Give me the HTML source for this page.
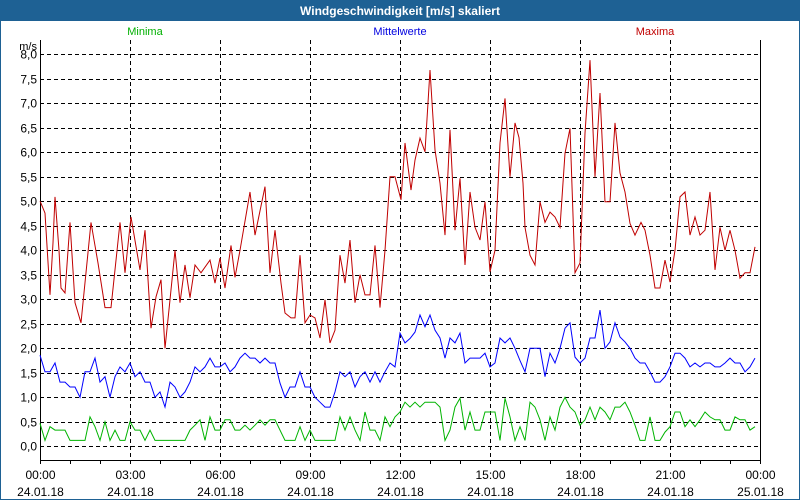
<!DOCTYPE html>
<html><head><meta charset="utf-8"><style>
html,body{margin:0;padding:0;background:#fff}
#wrap{position:relative;width:800px;height:500px;overflow:hidden;font-family:"Liberation Sans",sans-serif}
</style></head><body>
<div id="wrap">
<svg id="chart" width="800" height="500" xmlns="http://www.w3.org/2000/svg">
<rect x="0" y="0" width="800" height="500" fill="#fff"/>
<rect x="0.5" y="0.5" width="799" height="499" fill="none" stroke="#1e6194" stroke-width="1"/>
<rect x="0" y="0" width="800" height="21" fill="#1e6194"/>
<text x="400" y="15" text-anchor="middle" font-size="12" font-weight="bold" fill="#fff">Windgeschwindigkeit [m/s] skaliert</text>
<text x="145" y="35" text-anchor="middle" font-size="11" fill="#00b000">Minima</text>
<text x="400" y="35" text-anchor="middle" font-size="11" fill="#0000e0">Mittelwerte</text>
<text x="655" y="35" text-anchor="middle" font-size="11" fill="#c00000">Maxima</text>
<text x="37" y="50" text-anchor="end" font-size="11" fill="#000">m/s</text>
<g id="grid"></g>
<g id="axes"></g>
<g id="series"></g>
</svg>
</div>
<script>
const yTicks=[0,0.5,1,1.5,2,2.5,3,3.5,4,4.5,5,5.5,6,6.5,7,7.5,8];
const yTickLabels=["0,0","0,5","1,0","1,5","2,0","2,5","3,0","3,5","4,0","4,5","5,0","5,5","6,0","6,5","7,0","7,5","8,0"];
const xTickHours=[0,3,6,9,12,15,18,21,24];
const xTimeLabels=["00:00","03:00","06:00","09:00","12:00","15:00","18:00","21:00","00:00"];
const xDateLabels=["24.01.18","24.01.18","24.01.18","24.01.18","24.01.18","24.01.18","24.01.18","24.01.18","25.01.18"];
const maxMinutes=[0,2,10,20,26,30,38,42,50,60,70,82,102,116,130,142,160,170,182,200,210,222,232,242,250,260,270,280,290,300,310,322,340,350,360,370,382,390,400,420,430,450,460,470,482,490,502,510,520,530,540,550,560,570,580,590,600,610,620,630,640,650,660,670,680,690,700,710,722,730,742,750,760,770,780,790,800,810,820,830,840,850,860,870,880,890,900,910,920,930,940,950,958,966,970,980,990,1000,1010,1020,1030,1040,1050,1060,1070,1080,1090,1100,1110,1120,1130,1140,1150,1160,1170,1180,1190,1202,1210,1220,1230,1240,1250,1260,1270,1280,1290,1300,1310,1320,1330,1340,1350,1360,1370,1380,1390,1400,1410,1420,1430];
const maxValues=[5.0,4.96,4.76,3.09,4.15,5.09,4.0,3.23,3.13,4.57,2.93,2.52,4.57,3.74,2.83,2.83,4.57,3.54,4.68,3.6,4.41,2.41,3.05,3.4,2.0,2.99,4.0,2.93,3.7,3.03,3.7,3.54,3.8,3.33,3.84,3.23,4.1,3.45,4.0,5.19,4.31,5.3,3.54,4.41,3.33,2.72,2.62,2.62,3.9,2.52,2.68,2.62,2.21,2.99,2.11,2.37,3.9,3.33,4.21,2.93,3.5,3.09,3.09,4.1,2.83,4.0,5.5,5.5,5.03,6.19,5.23,5.84,6.29,6.01,7.68,6.05,5.37,4.31,6.46,4.41,5.47,3.7,5.19,4.47,4.21,4.99,3.56,4.0,6.19,7.1,5.5,6.6,6.3,5.37,4.47,3.9,3.7,4.99,4.57,4.78,4.68,4.47,5.98,6.49,3.54,3.74,6.39,7.88,5.5,7.21,4.99,4.99,6.6,5.58,5.19,4.55,4.31,4.57,4.41,3.9,3.23,3.23,3.8,3.35,4.0,5.09,5.19,4.31,4.68,4.31,4.41,5.19,3.6,4.47,4.0,4.41,4.0,3.43,3.54,3.54,4.07];
const meanValues=[1.86,1.52,1.52,1.70,1.31,1.31,1.21,1.21,1.0,1.52,1.52,1.80,1.31,1.42,1.0,1.42,1.62,1.52,1.70,1.42,1.52,1.31,1.31,1.0,1.11,0.8,1.31,1.21,1.0,1.11,1.31,1.62,1.52,1.62,1.80,1.62,1.62,1.70,1.52,1.62,1.80,1.90,1.80,1.80,1.70,1.80,1.70,1.70,1.29,1.0,1.21,1.21,1.52,1.21,1.21,1.0,0.9,0.8,0.8,1.11,1.52,1.42,1.52,1.21,1.42,1.52,1.31,1.52,1.31,1.52,1.70,1.62,2.31,2.11,2.2,2.33,2.68,2.44,2.68,2.37,2.21,1.80,2.21,2.11,2.31,1.70,1.80,1.80,1.80,1.90,1.62,1.70,2.21,2.11,2.21,2.0,1.75,1.52,2.0,2.0,2.0,1.42,1.90,1.70,2.0,2.41,2.52,1.82,1.70,1.80,2.21,2.21,2.78,2.0,2.13,2.52,2.23,2.13,2.0,1.80,1.70,1.70,1.52,1.31,1.31,1.42,1.62,1.90,1.90,1.80,1.62,1.70,1.62,1.70,1.70,1.62,1.62,1.70,1.80,1.70,1.70,1.52,1.62,1.80];
const minValues=[0.47,0.12,0.4,0.33,0.33,0.33,0.12,0.12,0.12,0.12,0.6,0.4,0.12,0.5,0.12,0.33,0.12,0.12,0.5,0.33,0.33,0.12,0.33,0.12,0.12,0.12,0.12,0.12,0.12,0.12,0.33,0.43,0.54,0.12,0.6,0.33,0.33,0.54,0.54,0.33,0.33,0.43,0.33,0.43,0.54,0.43,0.54,0.54,0.33,0.12,0.12,0.12,0.4,0.12,0.33,0.12,0.12,0.12,0.12,0.12,0.6,0.33,0.6,0.33,0.12,0.7,0.33,0.33,0.12,0.6,0.4,0.6,0.7,0.9,0.8,0.9,0.8,0.9,0.9,0.9,0.8,0.12,0.33,0.8,0.98,0.33,0.7,0.33,0.33,0.7,0.7,0.7,0.12,0.98,0.6,0.12,0.4,0.12,0.9,0.8,0.54,0.12,0.6,0.33,0.8,1.0,0.8,0.7,0.43,0.54,0.8,0.54,0.8,0.7,0.54,0.8,0.8,0.9,0.7,0.43,0.12,0.12,0.6,0.12,0.12,0.29,0.4,0.7,0.7,0.4,0.54,0.4,0.54,0.7,0.6,0.54,0.54,0.33,0.33,0.6,0.54,0.54,0.33,0.4];
const stepMinutes=10;

const NS="http://www.w3.org/2000/svg";
const X0=40,X1=760,Y0=446.3,PXV=49,YB=460,YT=40;
function xScale(min){return X0+(min/1440)*(X1-X0);}
function yScale(v){return Y0-v*PXV;}
function mk(tag,attrs,parent){const e=document.createElementNS(NS,tag);for(const k in attrs)e.setAttribute(k,attrs[k]);parent.appendChild(e);return e;}
const grid=document.getElementById('grid'),axes=document.getElementById('axes'),series=document.getElementById('series');

yTicks.forEach((v,i)=>{
  const y=Math.round(yScale(v))+0.5;
  const l=mk('line',{x1:X0,x2:X1,y1:y,y2:y,stroke:'#000','stroke-width':1,'stroke-dasharray':'4,3'},grid);
  
  
  const t=mk('text',{x:37,y:y+4,'text-anchor':'end','font-size':12,fill:'#000'},axes);
  t.textContent=yTickLabels[i];
  
  
});
for(let h=0;h<=24;h++){
  const x=Math.round(xScale(h*60))+0.5;
  const tk=mk('line',{x1:x,x2:x,y1:YB,y2:YB+4,stroke:'#000','stroke-width':1},axes);
  
  
}
xTickHours.forEach((h,i)=>{
  const x=Math.round(xScale(h*60))+0.5;
  if(h>0&&h<24){
    const g=mk('line',{x1:x,x2:x,y1:YT,y2:YB,stroke:'#000','stroke-width':1,'stroke-dasharray':'4,3'},grid);
    
    
  }
  const t1=mk('text',{x:x,y:479,'text-anchor':'middle','font-size':12,fill:'#000'},axes);
  t1.textContent=xTimeLabels[i];
  
  
  const t2=mk('text',{x:x,y:496,'text-anchor':'middle','font-size':12,fill:'#000'},axes);
  t2.textContent=xDateLabels[i];
  
  
});
const la=mk('line',{x1:X0+0.5,x2:X0+0.5,y1:YT,y2:YB+0.5,stroke:'#000','stroke-width':1},axes);


const ra=mk('line',{x1:X1+0.5,x2:X1+0.5,y1:YT,y2:YB+0.5,stroke:'#000','stroke-width':1},axes);


const ba=mk('line',{x1:X0,x2:X1+1,y1:YB+0.5,y2:YB+0.5,stroke:'#000','stroke-width':1},axes);



function drawLine(times,vals,color,name){
  const pts=vals.map((v,i)=>xScale(times[i]).toFixed(1)+','+yScale(v).toFixed(1)).join(' ');
  const p=mk('polyline',{points:pts,fill:'none',stroke:color,'stroke-width':1,'stroke-linejoin':'miter'},series);
  
  
}
const stepTimes=minValues.map((_,i)=>i*stepMinutes);
drawLine(stepTimes,minValues,'#00b400','series-minima');
drawLine(meanValues.map((_,i)=>i*stepMinutes),meanValues,'#0000ff','series-mittelwerte');
drawLine(maxMinutes,maxValues,'#c00000','series-maxima');
</script>
</body></html>
